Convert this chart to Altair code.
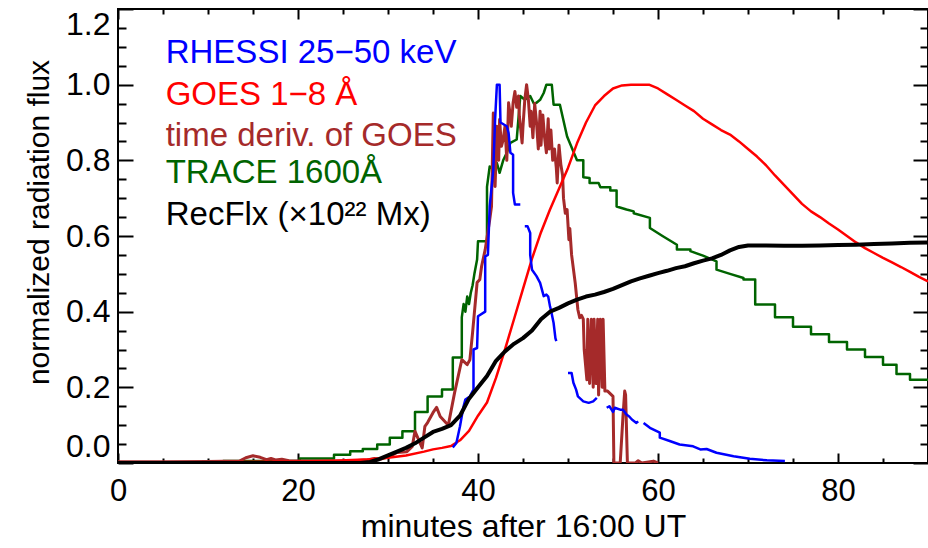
import altair as alt
import pandas as pd

FONT = "Liberation Sans"

# ---------------- data (minutes after 16:00 UT, normalized flux) ----------------
goes_t = [0, 10, 20, 24, 26, 28, 30, 32, 34, 35, 36, 37, 38, 39, 40, 41, 42, 43, 44, 45,
          46, 47, 48, 49, 50, 51, 52, 53, 54, 55, 56, 57, 58, 59, 60, 61, 62, 63, 64, 65,
          66, 67, 68, 69, 70, 71, 72, 73, 74, 75, 76, 77, 78, 79, 80, 81, 82, 83, 84, 85,
          86, 87, 88, 89, 90]
goes_v = [0.002, 0.002, 0.004, 0.006, 0.008, 0.010, 0.014, 0.020, 0.030, 0.036, 0.040, 0.045,
          0.060, 0.085, 0.125, 0.16, 0.225, 0.30, 0.38, 0.46, 0.54, 0.61, 0.67, 0.725, 0.78,
          0.845, 0.90, 0.945, 0.97, 0.99, 0.998, 1.0, 1.0, 1.0, 0.99, 0.975, 0.96, 0.945, 0.93,
          0.91, 0.895, 0.88, 0.868, 0.85, 0.83, 0.81, 0.787, 0.76, 0.735, 0.71, 0.685, 0.665,
          0.65, 0.633, 0.617, 0.60, 0.583, 0.568, 0.555, 0.542, 0.53, 0.518, 0.505, 0.492, 0.48]

recflx_t = [0, 27, 28, 29, 30, 31, 32, 33, 34, 35, 36, 37, 38, 39, 40, 41, 42, 43, 44, 45, 46,
            47, 48, 49, 50, 51, 52, 53, 54, 55, 56, 57, 58, 59, 60, 61, 62, 63, 64, 65, 66, 67,
            68, 69, 70, 72, 74, 76, 78, 80, 82, 84, 86, 88, 90]
recflx_v = [0.0, 0.0, 0.003, 0.01, 0.02, 0.03, 0.04, 0.052, 0.067, 0.082, 0.09, 0.10, 0.125,
            0.17, 0.20, 0.23, 0.27, 0.295, 0.315, 0.33, 0.35, 0.38, 0.40, 0.41, 0.422, 0.432,
            0.44, 0.445, 0.452, 0.46, 0.47, 0.48, 0.488, 0.495, 0.502, 0.508, 0.515, 0.52,
            0.528, 0.535, 0.541, 0.55, 0.562, 0.571, 0.575, 0.575, 0.574, 0.574, 0.575, 0.576,
            0.577, 0.579, 0.58, 0.582, 0.583]

trace = [(1.0, 0.002), (11.7, 0.002), (11.7, 0.005), (20.2, 0.005), (20.2, 0.012), (24.0, 0.012),
         (24.0, 0.022), (25.8, 0.022), (25.8, 0.031), (27.2, 0.031), (27.2, 0.037), (28.8, 0.037),
         (28.8, 0.049), (30.2, 0.049), (30.2, 0.067), (31.6, 0.067), (31.6, 0.084), (33.0, 0.084),
         (33.0, 0.135), (34.4, 0.135), (34.4, 0.176), (36.0, 0.176), (36.0, 0.194), (37.2, 0.194),
         (37.2, 0.279), (38.2, 0.279), (38.2, 0.385), (38.4, 0.42), (38.6, 0.40), (38.8, 0.44),
         (39.0, 0.42), (39.2, 0.45), (39.4, 0.47), (39.6, 0.50), (39.9, 0.538), (40.0, 0.586),
         (41.0, 0.586), (41.0, 0.73), (41.3, 0.784), (41.7, 0.775), (42.1, 0.793), (42.4, 0.767),
         (42.8, 0.80), (43.2, 0.82), (43.6, 0.846), (44.3, 0.855), (44.7, 0.97), (45.2, 0.96),
         (45.8, 0.97), (46.2, 0.95), (46.5, 0.952), (46.9, 0.96), (47.3, 0.978), (47.6, 1.0),
         (48.2, 1.0), (48.4, 0.947), (49.1, 0.947), (49.9, 0.863), (51.0, 0.80), (51.7, 0.80),
         (51.7, 0.755), (52.4, 0.753), (52.4, 0.74), (53.4, 0.74), (53.6, 0.729), (54.7, 0.729),
         (54.7, 0.72), (55.4, 0.72), (55.4, 0.678), (56.5, 0.67), (57.3, 0.665), (57.3, 0.66),
         (59.1, 0.648), (59.1, 0.621), (60.5, 0.60), (62.1, 0.577), (62.1, 0.564), (63.6, 0.564),
         (63.6, 0.56), (65.0, 0.548), (66.5, 0.533), (66.5, 0.511), (68.0, 0.50), (69.5, 0.489),
         (69.5, 0.485), (70.8, 0.485), (70.8, 0.419), (73.0, 0.419), (73.0, 0.385), (75.0, 0.385),
         (75.0, 0.36), (77.0, 0.36), (77.0, 0.34), (79.0, 0.34), (79.0, 0.32), (81.0, 0.32),
         (81.0, 0.30), (83.0, 0.30), (83.0, 0.28), (85.0, 0.28), (85.0, 0.26), (86.5, 0.26),
         (86.5, 0.235), (88.0, 0.235), (88.0, 0.22), (90.0, 0.22)]

deriv = [(0, 0.003), (5, 0.003), (10, 0.004), (13.5, 0.005), (14.2, 0.014), (15.0, 0.019),
         (15.8, 0.015), (16.5, 0.009), (17.0, 0.012), (17.5, 0.008), (18.2, 0.010), (19.0, 0.006),
         (22, 0.005), (26, 0.006), (27.7, 0.008), (28.5, 0.012), (29.1, 0.010), (30.2, 0.017),
         (31.0, 0.028), (32.1, 0.030), (32.7, 0.044), (33.0, 0.084), (33.3, 0.067), (33.8, 0.040),
         (34.1, 0.097), (34.4, 0.107), (35.0, 0.133), (35.4, 0.147), (35.8, 0.123), (36.7, 0.100),
         (37.4, 0.186), (38.2, 0.273), (38.8, 0.260), (39.1, 0.273), (39.4, 0.345), (39.9, 0.477),
         (40.2, 0.485), (40.4, 0.52), (40.8, 0.564), (41.3, 0.643), (41.5, 0.678), (41.7, 0.925),
         (41.9, 0.731), (42.1, 0.89), (42.3, 0.80), (42.4, 0.908), (42.6, 0.837), (42.8, 0.855),
         (43.0, 0.89), (43.2, 0.80), (43.4, 0.952), (43.6, 0.916), (43.7, 0.89), (43.9, 0.952),
         (44.1, 0.982), (44.3, 0.94), (44.5, 0.97), (44.6, 0.916), (44.9, 0.846), (45.0, 0.89),
         (45.2, 0.96), (45.4, 1.0), (45.6, 0.96), (45.8, 0.89), (45.9, 0.93), (46.1, 0.86),
         (46.3, 0.95), (46.5, 0.90), (46.7, 0.83), (46.9, 0.93), (47.0, 0.84), (47.2, 0.92),
         (47.4, 0.86), (47.6, 0.82), (47.8, 0.91), (47.9, 0.83), (48.1, 0.88), (48.3, 0.80),
         (48.5, 0.83), (48.7, 0.78), (48.8, 0.74), (49.0, 0.84), (49.2, 0.79), (49.4, 0.76),
         (49.5, 0.70), (49.7, 0.66), (49.9, 0.67), (50.1, 0.59), (50.2, 0.62), (50.4, 0.55),
         (50.8, 0.476), (51.1, 0.405), (51.3, 0.384), (51.5, 0.39), (51.7, 0.38), (51.8, 0.30),
         (52.1, 0.22), (52.2, 0.38), (52.4, 0.21), (52.6, 0.38), (52.8, 0.20), (52.9, 0.38),
         (53.1, 0.21), (53.3, 0.38), (53.4, 0.18), (53.6, 0.38), (53.8, 0.20), (53.9, 0.38),
         (54.1, 0.19), (54.4, 0.19), (55.0, 0.176), (55.1, 0.0), (55.8, 0.0), (56.1, 0.12),
         (56.3, 0.19), (56.4, 0.18), (56.6, 0.0), (57.5, 0.0), (57.8, 0.006), (58.2, 0.0),
         (59.5, 0.005), (60.0, 0.0)]

rhessi_segments = [
    [(37.2, 0.041), (37.6, 0.053), (38.0, 0.097), (38.2, 0.124), (38.4, 0.15), (38.6, 0.168),
     (39.1, 0.176), (39.5, 0.194), (39.5, 0.30), (39.9, 0.304), (40.0, 0.388), (40.8, 0.40),
     (40.8, 0.546), (41.1, 0.55), (41.3, 0.678), (41.7, 0.775), (41.9, 0.908), (42.1, 1.0),
     (42.4, 1.0), (42.5, 0.90), (43.2, 0.89), (43.4, 0.872), (43.6, 0.82), (43.9, 0.815),
     (43.9, 0.714), (44.1, 0.683), (44.7, 0.683)],
    [(45.2, 0.626), (45.5, 0.626), (45.8, 0.608), (45.8, 0.55), (46.0, 0.511), (46.5, 0.494),
     (46.9, 0.476), (47.3, 0.441), (47.6, 0.445), (47.8, 0.44), (48.0, 0.414), (48.1, 0.405),
     (48.4, 0.37), (48.6, 0.33), (48.7, 0.322)],
    [(50.0, 0.238), (50.4, 0.238), (50.6, 0.212), (50.9, 0.194), (51.1, 0.176), (51.7, 0.163),
     (52.3, 0.159), (52.8, 0.163), (53.2, 0.172)],
    [(54.3, 0.146), (54.6, 0.15), (55.0, 0.135), (55.2, 0.146), (55.8, 0.141), (56.1, 0.141),
     (56.5, 0.128), (56.8, 0.123), (57.1, 0.115), (57.6, 0.106), (57.8, 0.11)],
    [(58.4, 0.106), (59.1, 0.093), (60.2, 0.08), (60.2, 0.067), (61.3, 0.058), (62.4, 0.049),
     (63.9, 0.044), (64.7, 0.036), (65.4, 0.037), (66.5, 0.027), (68.4, 0.018), (70.2, 0.011),
     (72.1, 0.007), (74.1, 0.005)],
]

legend_labels = ["RHESSI 25\u221250 keV", "GOES 1\u22128 \u00c5", "time deriv. of GOES",
                 "TRACE 1600\u00c5", "RecFlx (\u00d710\u00b2\u00b2 Mx)"]
legend_colors = ["#0000ff", "#ff0000", "#a52a2a", "#006400", "#000000"]
legend_x = [5.3, 5.3, 5.3, 5.3, 5.3]
legend_y = [1.057, 0.946, 0.838, 0.740, 0.629]

x_major = [0, 20, 40, 60, 80]
x_minor = [5, 10, 15, 25, 30, 35, 45, 50, 55, 65, 70, 75, 85]
y_major = [0.0, 0.2, 0.4, 0.6, 0.8, 1.0, 1.2]
y_minor = [0.05, 0.1, 0.15, 0.25, 0.3, 0.35, 0.45, 0.5, 0.55, 0.65, 0.7, 0.75,
           0.85, 0.9, 0.95, 1.05, 1.1, 1.15]

# ---------------- layout ----------------
W, H = 810, 454
X0, X1 = 0, 90
Y0, Y1 = 0.0, 1.2


def frame(pairs, seg=0):
    return pd.DataFrame({"t": [p[0] for p in pairs], "v": [p[1] for p in pairs],
                         "i": list(range(len(pairs))), "seg": seg})


goes_df = frame(list(zip(goes_t, goes_v)))
flux_df = frame(list(zip(recflx_t, recflx_v)))
trace_df = frame(trace)
deriv_df = frame(deriv)
rhessi_df = pd.concat([frame(s, k) for k, s in enumerate(rhessi_segments)], ignore_index=True)
legend_df = pd.DataFrame({"t": legend_x, "v": legend_y, "label": legend_labels, "color": legend_colors})
anchor_df = pd.DataFrame({"t": [X0, X1], "v": [Y0, Y1]})  # scale anchors for guide-only layers

xscale = alt.Scale(domain=[X0, X1], nice=False, zero=False)
yscale = alt.Scale(domain=[Y0, Y1], nice=False, zero=False)

# axis carrying labels and titles only
xaxis_lab = alt.Axis(values=x_major, title="minutes after 16:00 UT", ticks=False, tickSize=0,
                     domain=False, grid=False, labelFlush=False, labelFont=FONT, titleFont=FONT,
                     labelFontSize=31, titleFontSize=32, labelColor="black", titleColor="black",
                     titleFontWeight="normal", labelPadding=13, titlePadding=5, orient="bottom")
yaxis_lab = alt.Axis(values=y_major, format=".1f", title="normalized radiation flux", ticks=False,
                     tickSize=0, domain=False, grid=False, labelFlush=True, labelFont=FONT,
                     titleFont=FONT, labelFontSize=32, titleFontSize=30, labelColor="black",
                     titleColor="black", titleFontWeight="normal", labelPadding=8,
                     titlePadding=11, titleY=213, orient="left")


def tick_axis(vals, orient, size):
    # inward ticks: the axis is moved inside the plot by its own tick length
    return alt.Axis(values=vals, orient=orient, tickSize=size, offset=-size, ticks=True,
                    labels=False, domain=False, grid=False, title=None, tickColor="black",
                    tickWidth=2)


def guide_layer(xax, yax):
    return alt.Chart(anchor_df).mark_point(opacity=0, size=1).encode(
        x=alt.X("t:Q", scale=xscale, axis=xax), y=alt.Y("v:Q", scale=yscale, axis=yax))


XN = alt.X("t:Q", scale=xscale, axis=None)
YN = alt.Y("v:Q", scale=yscale, axis=None)


def line(df, color, width):
    return alt.Chart(df).mark_line(color=color, strokeWidth=width, clip=True,
                                   strokeJoin="round").encode(
        x=XN, y=YN, order="i:Q", detail="seg:N")


legend = alt.Chart(legend_df).mark_text(align="left", baseline="alphabetic", font=FONT,
                                        fontSize=33).encode(
    x=XN, y=YN, text="label:N", color=alt.Color("color:N", scale=None))

layers = [
    guide_layer(xaxis_lab, yaxis_lab),
    guide_layer(tick_axis(x_major, "bottom", 10), tick_axis(y_major, "left", 15)),
    guide_layer(tick_axis(x_minor, "bottom", 5), tick_axis(y_minor, "left", 8)),
    guide_layer(tick_axis(x_major, "top", 10), tick_axis(y_major, "right", 15)),
    guide_layer(tick_axis(x_minor, "top", 5), tick_axis(y_minor, "right", 8)),
    line(trace_df, "#006400", 2.5), line(deriv_df, "#a52a2a", 3),
    line(goes_df, "#ff0000", 2.5), line(rhessi_df, "#0000ff", 2.5),
    line(flux_df, "#000000", 4), legend,
]

chart = alt.layer(*layers).resolve_axis(x="independent", y="independent").properties(
    width=W, height=H,
    autosize=alt.AutoSizeParams(type="none"),
    padding={"left": 118, "top": 9, "right": 0, "bottom": 85},
    background="white",
).configure_view(stroke="black", strokeWidth=2)

chart.save("out.html", embed_options={"renderer": "svg", "actions": False})
